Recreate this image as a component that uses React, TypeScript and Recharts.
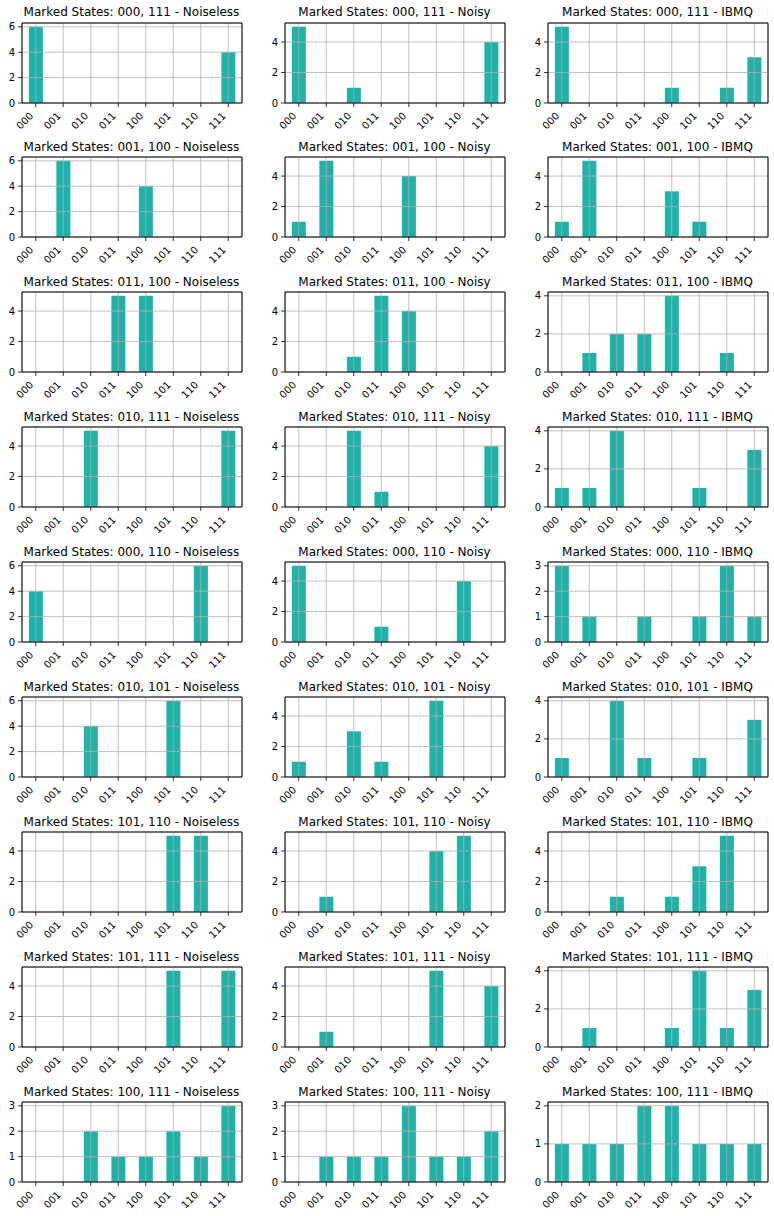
import React from "react"
import { BarChart, Bar, XAxis, YAxis, CartesianGrid, ReferenceArea } from "recharts"

const states = ["000", "001", "010", "011", "100", "101", "110", "111"]
const markedPairs = [
  "000, 111",
  "001, 100",
  "011, 100",
  "010, 111",
  "000, 110",
  "010, 101",
  "101, 110",
  "101, 111",
  "100, 111",
]
const backends = ["Noiseless", "Noisy", "IBMQ"]

// counts per marked pair, in the order of `states`
const noiselessCounts = [
  [6, 0, 0, 0, 0, 0, 0, 4],
  [0, 6, 0, 0, 4, 0, 0, 0],
  [0, 0, 0, 5, 5, 0, 0, 0],
  [0, 0, 5, 0, 0, 0, 0, 5],
  [4, 0, 0, 0, 0, 0, 6, 0],
  [0, 0, 4, 0, 0, 6, 0, 0],
  [0, 0, 0, 0, 0, 5, 5, 0],
  [0, 0, 0, 0, 0, 5, 0, 5],
  [0, 0, 2, 1, 1, 2, 1, 3],
]
const noisyCounts = [
  [5, 0, 1, 0, 0, 0, 0, 4],
  [1, 5, 0, 0, 4, 0, 0, 0],
  [0, 0, 1, 5, 4, 0, 0, 0],
  [0, 0, 5, 1, 0, 0, 0, 4],
  [5, 0, 0, 1, 0, 0, 4, 0],
  [1, 0, 3, 1, 0, 5, 0, 0],
  [0, 1, 0, 0, 0, 4, 5, 0],
  [0, 1, 0, 0, 0, 5, 0, 4],
  [0, 1, 1, 1, 3, 1, 1, 2],
]
const ibmqCounts = [
  [5, 0, 0, 0, 1, 0, 1, 3],
  [1, 5, 0, 0, 3, 1, 0, 0],
  [0, 1, 2, 2, 4, 0, 1, 0],
  [1, 1, 4, 0, 0, 1, 0, 3],
  [3, 1, 0, 1, 0, 1, 3, 1],
  [1, 0, 4, 1, 0, 1, 0, 3],
  [0, 0, 1, 0, 1, 3, 5, 0],
  [0, 1, 0, 0, 1, 4, 1, 3],
  [1, 1, 1, 2, 2, 1, 1, 1],
]

const FONT = "DejaVu Sans, Verdana, sans-serif"
const BAR_COLOR = "#20b2aa"
const colLefts = [21.5, 284.5, 547.5]
const plotW = 220
const plotH = 80
const rowTop = (r: number) => 22.5 + r * 134.9

const AXIS_W = 36
const TOP = 22
const RIGHT = 6
const AXIS_H = 33

function yTicks(max: number) {
  const step = max > 3 ? 2 : 1
  const out: number[] = []
  for (let v = 0; v <= max * 1.05; v += step) out.push(v)
  return out
}

function StateTick(props: any) {
  const { x, y, payload } = props
  const ex = x - 1.7
  const ey = y + 7.6
  return (
    <text
      x={ex}
      y={ey}
      transform={`rotate(-45, ${ex}, ${ey})`}
      textAnchor="end"
      fontSize={10}
      fontFamily={FONT}
      fill="#000"
    >
      {payload.value}
    </text>
  )
}

function Panel({ title, counts, left, top }: { title: string; counts: number[]; left: number; top: number }) {
  const data = states.map((s, i) => ({ state: s, count: counts[i] }))
  const max = Math.max(...counts)
  const yMax = max * 1.05
  return (
    <>
      <div
        style={{
          position: "absolute",
          left,
          top: top - 16.15,
          width: plotW,
          textAlign: "center",
          fontFamily: FONT,
          fontSize: 12,
          lineHeight: "12px",
          whiteSpace: "nowrap",
          color: "#000",
        }}
      >
        {title}
      </div>
      <div style={{ position: "absolute", left: left - AXIS_W, top: top - TOP }}>
        <BarChart
          width={AXIS_W + plotW + RIGHT}
          height={TOP + plotH + AXIS_H}
          data={data}
          margin={{ top: TOP, right: RIGHT, bottom: 0, left: 0 }}
          barCategoryGap="25%"
        >
          <XAxis
            dataKey="state"
            interval={0}
            height={AXIS_H}
            axisLine={false}
            tickSize={4}
            tickMargin={2}
            tickLine={{ stroke: "#000", strokeWidth: 0.8 }}
            tick={<StateTick />}
          />
          <YAxis
            width={AXIS_W}
            domain={[0, yMax]}
            ticks={yTicks(max)}
            axisLine={false}
            tickSize={4}
            tickMargin={3}
            tickLine={{ stroke: "#000", strokeWidth: 0.8 }}
            tick={{ fontSize: 10, fill: "#000", fontFamily: FONT }}
          />
          <Bar dataKey="count" fill={BAR_COLOR} isAnimationActive={false} />
          <CartesianGrid stroke="#b0b0b0" strokeWidth={0.8} zIndex={350} />
          <ReferenceArea y1={0} y2={yMax} fill="none" stroke="#000" strokeWidth={1} zIndex={600} />
        </BarChart>
      </div>
    </>
  )
}

export default function App() {
  const series = [noiselessCounts, noisyCounts, ibmqCounts]
  return (
    <div
      style={{
        position: "absolute",
        left: 0,
        top: 0,
        width: 774,
        height: 1216,
        background: "#fff",
        overflow: "hidden",
      }}
    >
      {markedPairs.map((pair, r) =>
        backends.map((b, c) => (
          <Panel
            key={`${r}-${c}`}
            title={`Marked States: ${pair} - ${b}`}
            counts={series[c][r]}
            left={colLefts[c]}
            top={rowTop(r)}
          />
        ))
      )}
    </div>
  )
}
